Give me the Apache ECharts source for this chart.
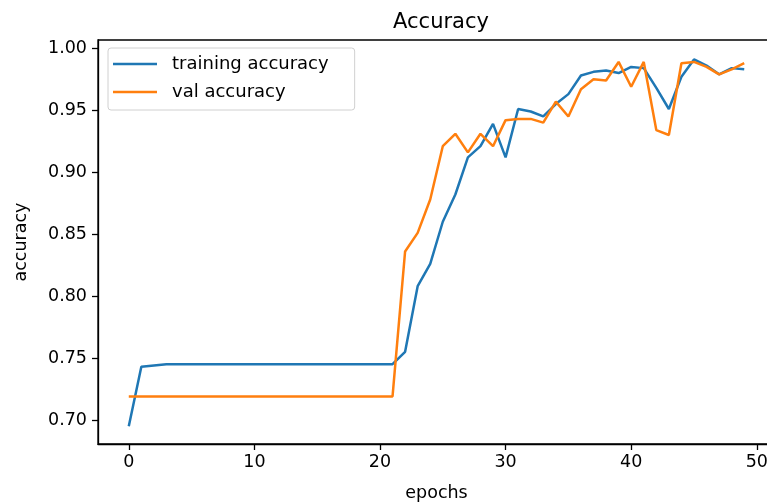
<!DOCTYPE html>
<html>
<head>
<meta charset="utf-8">
<script src="https://cdn.jsdelivr.net/npm/echarts@6/dist/echarts.min.js"></script>
<style>html,body{margin:0;padding:0;background:#fff;}#c{width:767px;height:502px;}</style>
</head>
<body>
<div id="c"></div>
<script>
var title = 'Accuracy';
var xLabel = 'epochs';
var yLabel = 'accuracy';
var seriesNames = ['training accuracy', 'val accuracy'];
var xTicks = [0, 10, 20, 30, 40, 50];
var yTicks = [0.70, 0.75, 0.80, 0.85, 0.90, 0.95, 1.00];
var training = [0.695, 0.743, 0.744, 0.745, 0.745, 0.745, 0.745, 0.745, 0.745, 0.745,
  0.745, 0.745, 0.745, 0.745, 0.745, 0.745, 0.745, 0.745, 0.745, 0.745,
  0.745, 0.745, 0.755, 0.808, 0.826, 0.860, 0.882, 0.912, 0.921, 0.939,
  0.912, 0.951, 0.949, 0.945, 0.955, 0.963, 0.978, 0.981, 0.982, 0.980,
  0.985, 0.984, 0.968, 0.951, 0.977, 0.991, 0.986, 0.979, 0.984, 0.983];
var val = [0.719, 0.719, 0.719, 0.719, 0.719, 0.719, 0.719, 0.719, 0.719, 0.719,
  0.719, 0.719, 0.719, 0.719, 0.719, 0.719, 0.719, 0.719, 0.719, 0.719,
  0.719, 0.719, 0.836, 0.851, 0.878, 0.921, 0.931, 0.916, 0.931, 0.921,
  0.942, 0.943, 0.943, 0.940, 0.957, 0.945, 0.967, 0.975, 0.974, 0.989,
  0.969, 0.989, 0.934, 0.930, 0.988, 0.989, 0.985, 0.979, 0.983, 0.988];

function pairs(arr) { return arr.map(function (v, i) { return [i, v]; }); }

var FONT = 'DejaVu Sans';
var chart = echarts.init(document.getElementById('c'), null, { renderer: 'canvas' });
chart.setOption({
  animation: false,
  backgroundColor: '#fff',
  title: {
    text: title, left: 436, top: 7, textAlign: 'center',
    textStyle: { fontFamily: FONT, fontSize: 21, fontWeight: 'normal', color: '#000' }
  },
  grid: { left: 98, top: 40, width: 677, height: 404, show: true, borderColor: '#000', borderWidth: 1.3,
    backgroundColor: 'transparent', containLabel: false, outerBoundsMode: 'none' },
  legend: {
    orient: 'vertical', left: 108, top: 48,
    data: seriesNames, icon: 'rect', itemWidth: 44, itemHeight: 2.5, itemGap: 10,
    padding: [7, 26, 9, 5],
    borderColor: '#d0d0d0', borderWidth: 1, borderRadius: 3, backgroundColor: 'rgba(255,255,255,0.8)',
    textStyle: { fontFamily: FONT, fontSize: 18, color: '#000', padding: [0, 0, 0, 10] }
  },
  xAxis: {
    type: 'value', min: -2.45, max: 51.45,
    name: xLabel, nameLocation: 'middle', nameGap: 40,
    nameTextStyle: { fontFamily: FONT, fontSize: 17.5, color: '#000' },
    axisLine: { show: true, onZero: false, lineStyle: { color: '#000', width: 1.3 } },
    axisTick: { show: true, length: 6, lineStyle: { color: '#000', width: 1.3 }, customValues: xTicks },
    axisLabel: { fontFamily: FONT, fontSize: 17.5, color: '#000', margin: 9, customValues: xTicks },
    splitLine: { show: false }
  },
  yAxis: {
    type: 'value', min: 0.6806, max: 1.0067,
    name: yLabel, nameLocation: 'middle', nameGap: 68, nameRotate: 90,
    nameTextStyle: { fontFamily: FONT, fontSize: 17.5, color: '#000' },
    axisLine: { show: true, onZero: false, lineStyle: { color: '#000', width: 1.3 } },
    axisTick: { show: true, length: 6, lineStyle: { color: '#000', width: 1.3 }, customValues: yTicks },
    axisLabel: { fontFamily: FONT, fontSize: 17.5, color: '#000', margin: 11, customValues: yTicks,
      formatter: function (v) { return v.toFixed(2); } },
    splitLine: { show: false }
  },
  series: [
    { name: seriesNames[0], type: 'line', data: pairs(training), showSymbol: false, symbol: 'none',
      itemStyle: { color: '#1f77b4' }, lineStyle: { color: '#1f77b4', width: 2.5 }, z: 2 },
    { name: seriesNames[1], type: 'line', data: pairs(val), showSymbol: false, symbol: 'none',
      itemStyle: { color: '#ff7f0e' }, lineStyle: { color: '#ff7f0e', width: 2.5 }, z: 3 }
  ]
});
</script>
</body>
</html>
